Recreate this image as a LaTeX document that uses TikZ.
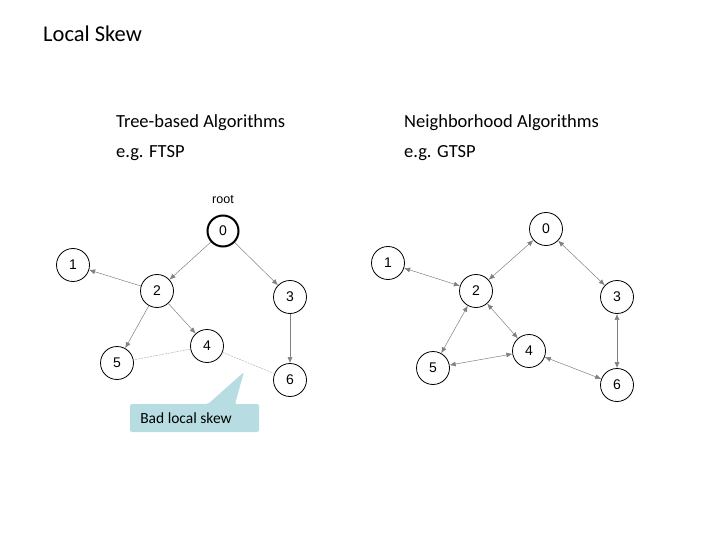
\documentclass[tikz,border=0pt]{standalone}
\usepackage{fontspec}
\setmainfont{Carlito}
\newfontfamily\arialf{Liberation Sans}
\usetikzlibrary{arrows.meta}
\begin{document}
\begin{tikzpicture}[x=1pt,y=-1pt,
  vtx/.style={circle,draw,line width=0.8pt,minimum size=33pt,inner sep=0pt,font=\arialf\fontsize{14}{16}\selectfont},
  edge/.style={draw=gray,line width=0.5pt,-{Latex[length=6pt,width=5pt]}},
  bedge/.style={draw=gray,line width=0.5pt,{Latex[length=6pt,width=5pt]}-{Latex[length=6pt,width=5pt]}},
  weak/.style={draw=gray!60,line width=0.5pt,dash pattern=on 2pt off 1pt},
  txt/.style={anchor=west,inner sep=0pt,font=\fontsize{18.5}{22}\selectfont}]
\useasboundingbox (0,0) rectangle (720,540);
\node[anchor=west,inner sep=0pt,font=\fontsize{22.5}{26}\selectfont] (title) at (43,34) {Local Skew};
\node[txt] (h1) at (116,123) {Tree-based Algorithms};
\node[txt] (h1b) at (116,153) {e.g. FTSP};
\node[txt] (h2) at (404,123) {Neighborhood Algorithms};
\node[txt] (h2b) at (404,153) {e.g. GTSP};
% left graph
\node[font=\arialf\fontsize{12.5}{14}\selectfont] (root) at (223,200) {root};
\node[vtx,line width=2pt,minimum size=31pt] (a0) at (223,231) {0};
\node[vtx] (a1) at (73,265) {1};
\node[vtx] (a2) at (157,291) {2};
\node[vtx] (a3) at (290,297) {3};
\node[vtx] (a4) at (207,346) {4};
\node[vtx] (a5) at (117,363) {5};
\node[vtx] (a6) at (290,380) {6};
\draw[edge] (a0) -- (a2);
\draw[edge] (a0) -- (a3);
\draw[edge] (a2) -- (a1);
\draw[edge] (a2) -- (a5);
\draw[edge] (a2) -- (a4);
\draw[edge] (a3) -- (a6);
\draw[weak] (a4) -- (a5);
\draw[weak] (a4) -- (a6);
% callout
\fill[fill={rgb,255:red,183;green,221;blue,227}, rounded corners=2pt]
  (130,404) -- (208,404) -- (244,372) -- (235,404) -- (259,404) -- (259,432) -- (130,432) -- cycle;
\node[font=\fontsize{15.5}{18}\selectfont] (call) at (186,418) {Bad local skew};
% right graph
\node[vtx] (b0) at (546,229) {0};
\node[vtx] (b1) at (388,263) {1};
\node[vtx] (b2) at (476,291) {2};
\node[vtx] (b3) at (617,297) {3};
\node[vtx] (b4) at (529,351) {4};
\node[vtx] (b5) at (433,368) {5};
\node[vtx] (b6) at (617,385) {6};
\draw[bedge] (b0) -- (b2);
\draw[bedge] (b0) -- (b3);
\draw[bedge] (b1) -- (b2);
\draw[bedge] (b2) -- (b5);
\draw[bedge] (b2) -- (b4);
\draw[bedge] (b4) -- (b5);
\draw[bedge] (b4) -- (b6);
\draw[bedge] (b3) -- (b6);
\end{tikzpicture}
\end{document}
